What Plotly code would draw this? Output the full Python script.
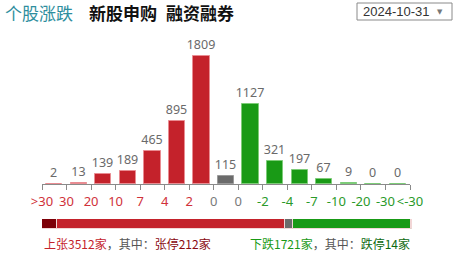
import numpy as np
import plotly.graph_objects as go

# distribution of price changes (%), boundary labels between the bars
edge_labels = [">30", "30", "20", "10", "7", "4", "2", "0", "0", "-2", "-4", "-7", "-10", "-20", "-30", "<-30"]
counts = [2, 13, 139, 189, 465, 895, 1809, 115, 1127, 321, 197, 67, 9, 0, 0]
groups = ["up"] * 7 + ["flat"] + ["down"] * 7

# summary figures
up_total, up_limit = 3512, 212
flat_total = 115
down_total, down_limit = 1721, 14

RED, GREEN, GREY = "#c4222b", "#199a16", "#6b6b6b"
fill = {"up": RED, "flat": GREY, "down": GREEN}
edge = {"up": "#e98c92", "flat": "#9a9a9a", "down": "#7dcc78"}
label_col = {"up": "#d0313a", "flat": "#7a7a7a", "down": "#2a9a2a"}

n = len(counts)
xpos = np.arange(n) + 0.5

fig = go.Figure()
fig.add_trace(go.Bar(
    x=xpos, y=counts, width=0.66,
    marker=dict(color=[fill[g] for g in groups],
                line=dict(color=[edge[g] for g in groups], width=1)),
    text=[str(v) for v in counts], textposition="outside", cliponaxis=False,
    constraintext="none",
    textfont=dict(family="Microsoft YaHei, Noto Sans, sans-serif", size=12.5, color="#6a6a6a"),
    hoverinfo="skip",
))

# tick label colour follows the side of zero each boundary belongs to
edge_groups = ["up"] * 7 + ["flat", "flat"] + ["down"] * 7
ticktext = [f"<span style='color:{label_col[g]}'>{t}</span>" for t, g in zip(edge_labels, edge_groups)]

# up/flat/down share bar
seg_vals = [up_limit, up_total - up_limit, flat_total, down_total - down_limit, down_limit]
seg_cols = ["#7d0008", RED, GREY, GREEN, "#0d6a10"]
seg_base = np.concatenate([[0], np.cumsum(seg_vals)[:-1]])
total = sum(seg_vals)
fig.add_trace(go.Bar(
    x=seg_vals, base=seg_base, y=[0] * len(seg_vals), orientation="h", width=1,
    marker=dict(color=seg_cols, line=dict(color="#f2d6d6", width=1)),
    xaxis="x2", yaxis="y2", hoverinfo="skip",
))

H, T, B = 259, 30, 25
plot_h = H - T - B
def py(pix):
    return (H - B - pix) / plot_h

fig.update_layout(
    width=456, height=259, margin=dict(l=42, r=44, t=T, b=B),
    paper_bgcolor="white", plot_bgcolor="white", showlegend=False,
    xaxis=dict(domain=[0, 368 / 370], range=[0, n], tickmode="array",
               tickvals=list(range(n + 1)), ticktext=ticktext, tickangle=0,
               showgrid=False, zeroline=False, showline=True, linecolor="#8a8a8a",
               ticks="outside", ticklen=5, tickcolor="#8a8a8a",
               tickfont=dict(family="Microsoft YaHei, Noto Sans, sans-serif", size=13)),
    yaxis=dict(domain=[py(184), 1], range=[0, 1809 * (184 - T) / 128],
               visible=False, fixedrange=True),
    xaxis2=dict(domain=[0, 1], range=[0, total], visible=False, anchor="y2"),
    yaxis2=dict(domain=[py(229), py(219)], range=[-0.5, 0.5], visible=False, anchor="x2"),
    bargap=0,
)

cn = "Noto Sans CJK SC, sans-serif"
fig.add_annotation(
    xref="paper", yref="paper", x=0, y=py(243), xanchor="left", yanchor="middle", showarrow=False,
    text=(f"<span style='color:{RED}'>上张{up_total}家</span>"
          f"<span style='color:#555'>，其中：</span>"
          f"<span style='color:#8a0a10'>张停{up_limit}家</span>"),
    font=dict(family=cn, size=12),
)
fig.add_annotation(
    xref="paper", yref="paper", x=1, y=py(243), xanchor="right", yanchor="middle", showarrow=False,
    text=(f"<span style='color:{GREEN}'>下跌{down_total}家</span>"
          f"<span style='color:#555'>，其中：</span>"
          f"<span style='color:#0d6a10'>跌停{down_limit}家</span>"),
    font=dict(family=cn, size=12),
)

# header tabs
tabs = [("个股涨跌", 3, "#2e8e9e", False), ("新股申购", 87, "#111111", True), ("融资融券", 164, "#111111", True)]
for label, x0, col, bold in tabs:
    fig.add_annotation(
        xref="paper", yref="paper", x=(x0 - 42) / 370, y=py(12), xanchor="left", yanchor="middle",
        showarrow=False, text=f"<b>{label}</b>" if bold else label,
        font=dict(family=cn, size=17, color=col),
    )

# date selector
fig.add_shape(type="rect", xref="paper", yref="paper",
              x0=(357 - 42) / 370, x1=(452 - 42) / 370, y0=py(20), y1=py(3),
              line=dict(color="#8a8a8a", width=1), fillcolor="white")
fig.add_annotation(xref="paper", yref="paper", x=(361 - 42) / 370, y=py(11.5), xanchor="left",
                   yanchor="middle", showarrow=False, text="2024-10-31",
                   font=dict(family="Arial, Liberation Sans, sans-serif", size=13, color="#333"))
fig.add_annotation(xref="paper", yref="paper", x=(440 - 42) / 370, y=py(11.5), xanchor="center",
                   yanchor="middle", showarrow=False, text="▼",
                   font=dict(family="DejaVu Sans, sans-serif", size=7, color="#777"))

fig.write_html("out.html")
